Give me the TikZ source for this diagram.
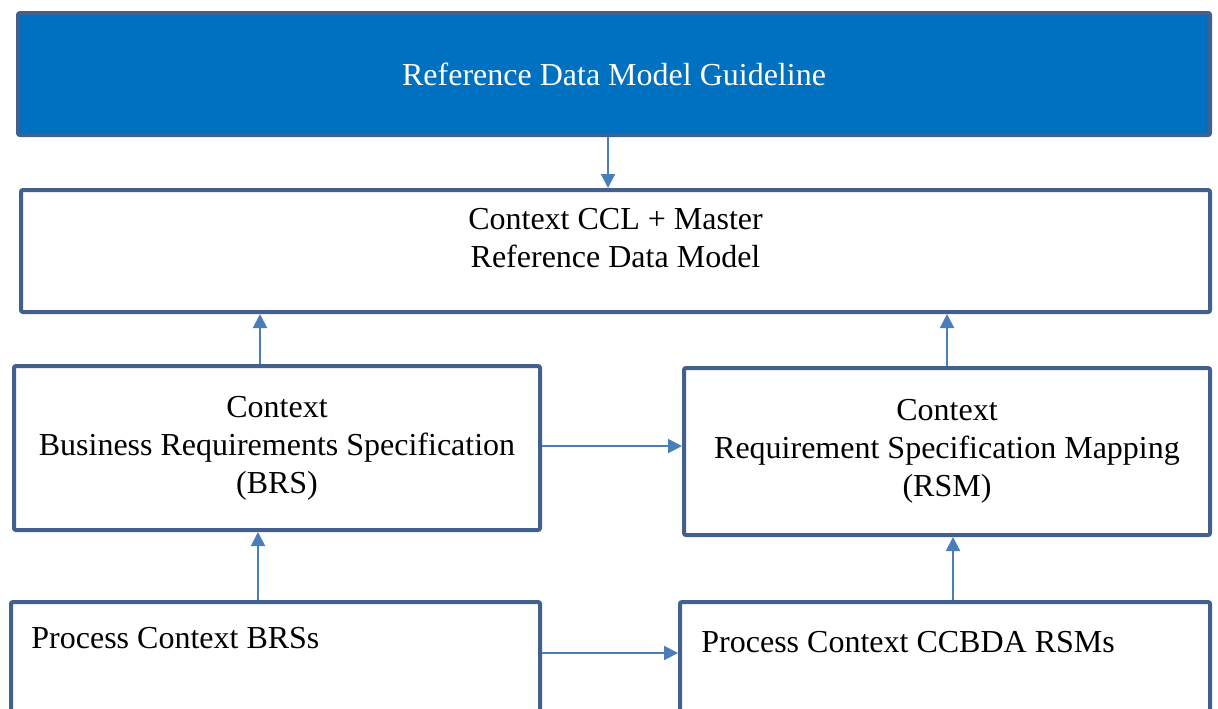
\documentclass[tikz,border=0pt]{standalone}
\usepackage{fontspec}
\setmainfont{Liberation Serif}
\usepackage{xcolor}
\usepackage{tikz}
\usetikzlibrary{arrows.meta,positioning}
\definecolor{boxline}{HTML}{41608E}
\definecolor{boxfill}{HTML}{0070C0}
\definecolor{arrline}{HTML}{4A7EBB}

\begin{document}
\begin{tikzpicture}[x=0.5pt,y=-0.5pt]
  \tikzstyle{box} = [draw=boxline,line width=2pt,rounded corners=1pt,fill=white,text=black,align=center,inner sep=0pt,
    font=\fontsize{16pt}{19pt}\selectfont]
  \tikzstyle{guide} = [box,fill=boxfill,text=white]
  \tikzstyle{txt} = [draw=none,fill=none,inner sep=0pt,align=center,font=\fontsize{16pt}{19pt}\selectfont]
  \tikzstyle{arr} = [draw=arrline,line width=1pt,-{Triangle[length=7pt,width=7pt]}]

  \clip (0,0) rectangle (1218,708);
  \fill[white] (0,0) rectangle (1218,708);

  \node[guide,minimum width=596pt,minimum height=61pt] (RDMG) at (614,74) {Reference Data Model Guideline};
  \node[box,minimum width=594.5pt,minimum height=61pt] (CCL) at (615.5,251) {};
  \node[txt] (CCL_text) at (615.5,238.5) {Context CCL + Master\\Reference Data Model};

  \node[box,minimum width=263pt,minimum height=82pt] (BRS) at (277,448)
    {Context\\Business Requirements Specification\\(BRS)};
  \node[box,minimum width=263pt,minimum height=83.5pt] (RSM) at (947,451.5)
    {Context\\Requirement Specification Mapping\\(RSM)};

  \node[box,minimum width=264.5pt,minimum height=80pt] (PBRS) at (275.5,682) {};
  \node[box,minimum width=265pt,minimum height=80pt] (PRSM) at (945,682) {};
  \node[txt,anchor=base west] (PBRS_text) at (31,648) {Process Context BRSs};
  \node[txt,anchor=base west] (PRSM_text) at (701,652) {Process Context CCBDA RSMs};

  \draw[arr] ([xshift=-3pt]RDMG.south) -- ([xshift=-3pt]RDMG.south |- CCL.north);
  \draw[arr] ([xshift=-8.5pt]BRS.north) -- ([xshift=-8.5pt]BRS.north |- CCL.south);
  \draw[arr] (RSM.north) -- (RSM.north |- CCL.south);
  \draw[arr] ([yshift=1pt]BRS.east) -- ([yshift=1pt]BRS.east -| RSM.west);

  \draw[arr] ([xshift=-8.75pt]PBRS.north) -- ([xshift=-8.75pt]PBRS.north |- BRS.south);
  \draw[arr] ([xshift=4pt]PRSM.north) -- ([xshift=4pt]PRSM.north |- RSM.south);
  \draw[arr] ([yshift=-26.5pt]PBRS.north east) -- ([yshift=-26.5pt]PBRS.north east -| PRSM.west);
\end{tikzpicture}
\end{document}
